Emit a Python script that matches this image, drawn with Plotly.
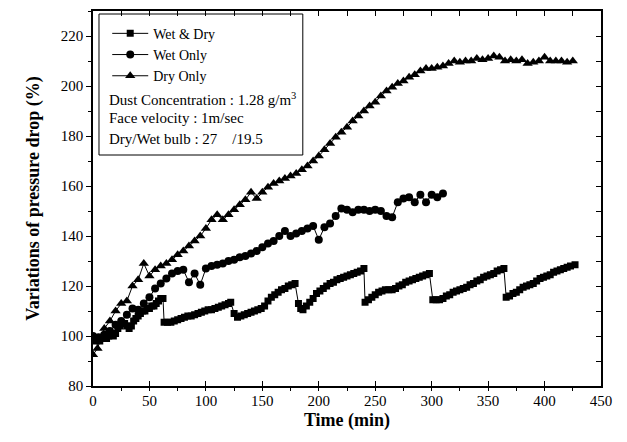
import plotly.graph_objects as go

# ---- data ----
wd_t = [0, 2, 4, 6, 8, 10, 12, 14, 16, 18, 20, 22, 24, 26, 28, 30, 32, 34, 36, 38, 40, 42, 44, 46, 48, 50, 52, 54, 56, 58, 60, 62,
        63, 66, 69, 72, 75, 78, 81, 84, 87, 90, 93, 96, 99, 102, 105, 108, 111, 114, 117, 120, 122,
        125, 128, 131, 134, 137, 140, 143, 146, 149, 152, 155, 158, 161, 164, 167, 170, 173, 176, 179,
        182, 184, 186, 189, 192, 195, 198, 201, 204, 207, 210, 213, 216, 219, 222, 225, 228, 231, 234, 237, 240,
        241, 244, 247, 250, 253, 256, 259, 262, 265, 268, 271, 274, 277, 280, 283, 286, 289, 292, 295, 298,
        301, 304, 307, 310, 313, 316, 319, 322, 325, 328, 331, 334, 337, 340, 343, 346, 349, 352, 355, 358, 361, 364,
        366, 369, 372, 375, 378, 381, 384, 387, 390, 393, 396, 399, 402, 405, 408, 411, 414, 417, 420, 423, 427]
wd_v = [99, 98, 99, 98, 99, 100, 99, 100, 101, 100, 101, 103, 104, 105, 105, 104, 103, 104, 106, 107, 108, 109, 110, 110, 111, 111, 112, 112, 113, 114, 115, 115,
        105.5, 105.5, 105.5, 106, 106.5, 107, 107.5, 108, 108, 108.5, 109, 109.5, 110, 110.5, 110.5, 111, 111.5, 112, 112.5, 113, 113.5,
        109, 107.5, 108, 108.5, 109, 109.5, 110, 110.5, 111, 112, 114, 115.5, 116.5, 117.5, 118.5, 119, 120, 120.5, 121,
        113, 111, 110.5, 112, 113.5, 115, 117, 118, 119, 120, 121, 121.5, 122.5, 123, 123.5, 124, 124.5, 125, 125.5, 126, 127,
        113.5, 114.5, 115.5, 116.5, 117.5, 118, 118.5, 118.5, 118.5, 119, 120, 120.5, 121.5, 122, 122.5, 123, 123.5, 124, 124.5, 125,
        114.5, 114.5, 114.5, 115, 116, 116.5, 117.5, 118, 118.5, 119, 119.5, 120.5, 121, 122, 122.5, 123.5, 124, 124.5, 125, 126, 126.5, 127,
        115.5, 116, 117, 117.5, 118.5, 119.5, 120, 120.5, 121, 122, 123, 123.5, 124, 124.5, 125.5, 126, 126.5, 127, 127.5, 128, 128.5]

wo_t = [0, 5, 10, 15, 20, 25, 30, 35, 40, 45, 50, 55, 60, 65, 70, 75, 80, 85, 90, 95, 100, 105, 110, 115, 120, 125, 130, 135,
        140, 145, 150, 155, 160, 165, 170, 175, 180, 185, 190, 195, 200, 205, 210, 215, 220, 225, 230, 235, 240, 245, 250,
        255, 260, 265, 270, 275, 280, 285, 290, 295, 300, 305, 310]
wo_v = [100, 99.5, 100.5, 102, 104.5, 106, 108.5, 111, 110.5, 113, 115.5, 119, 121, 123, 125, 126, 126.5, 121.5, 125, 120.5,
        127, 128, 128.5, 129, 130, 130.5, 131.5, 132, 133, 134, 135.5, 137, 138, 140, 142, 140, 141, 142, 143, 144, 138.5,
        143.5, 145, 148, 151, 150.5, 149.5, 150.5, 150.5, 150, 150.5, 150, 148, 147.5, 153.5, 155, 155.5, 153.5, 156.5,
        153.5, 156.5, 155.5, 157]

do_t = [0, 4, 10, 15, 20, 25, 30, 35, 40, 45, 50, 55, 60, 65, 70, 75, 80, 85, 90, 95, 100, 105, 110, 115, 120, 125, 130,
        135, 140, 145, 150, 155, 160, 165, 170, 175, 180, 185, 190, 195, 200, 205, 210, 215, 220, 225, 230, 235, 240, 245,
        250, 255, 260, 265, 270, 275, 280, 285, 290, 295, 300, 305, 310, 315, 320, 325, 330, 335, 340, 345, 350, 355, 360,
        365, 370, 375, 380, 385, 390, 395, 400, 405, 410, 415, 420, 425]
do_v = [92.5, 95, 103, 106, 110, 113, 114, 120, 122.5, 129, 124, 126.5, 128, 129, 130.5, 132.5, 134, 136, 138, 140, 143,
        146.5, 148.5, 146.5, 148.5, 150.5, 152.5, 154.5, 157.5, 155, 157.5, 159.5, 161, 162, 163, 164, 165, 166.5, 168, 170,
        172, 174.5, 177, 179.5, 181.5, 183.5, 186, 188, 190, 192, 193.5, 196, 198, 199.5, 201, 202, 203.5, 204.5, 206, 207,
        207, 207.5, 208, 209, 210, 209.5, 210, 210, 211, 210.5, 211, 212, 211.5, 210, 210.5, 210, 210.5, 209, 209.5, 210,
        211.5, 210, 210, 210, 209.5, 210]

x_ticks = [0, 50, 100, 150, 200, 250, 300, 350, 400, 450]
y_ticks = [80, 100, 120, 140, 160, 180, 200, 220]

FONT = "Liberation Serif"

fig = go.Figure()
fig.add_trace(go.Scatter(x=wd_t, y=wd_v, mode="lines+markers", name="Wet & Dry",
                         line=dict(color="black", width=1),
                         marker=dict(symbol="square", size=7, color="black")))
fig.add_trace(go.Scatter(x=wo_t, y=wo_v, mode="lines+markers", name="Wet Only",
                         line=dict(color="black", width=1),
                         marker=dict(symbol="circle", size=8, color="black")))
fig.add_trace(go.Scatter(x=do_t, y=do_v, mode="lines+markers", name="Dry Only",
                         line=dict(color="black", width=1),
                         marker=dict(symbol="triangle-up", size=9, color="black")))

fig.update_layout(
    width=627, height=442,
    margin=dict(l=85, r=34, t=3, b=64, autoexpand=False),
    paper_bgcolor="white", plot_bgcolor="white",
    font=dict(family=FONT, size=15, color="black"),
    showlegend=True,
    legend=dict(x=0.028, y=0.982, xanchor="left", yanchor="top",
                bgcolor="rgba(0,0,0,0)", borderwidth=0, itemwidth=36,
                font=dict(family=FONT, size=14, color="black"),
                tracegroupgap=0, itemsizing="trace"),
    xaxis=dict(range=[0, 450], tickvals=x_ticks, ticktext=[str(v) for v in x_ticks],
               showgrid=False, zeroline=False, showline=True, linecolor="black", linewidth=1.5,
               mirror=True, ticks="inside", ticklen=5, tickcolor="black", automargin=False,
               minor=dict(dtick=25, ticks="outside", ticklen=3, tickcolor="black", showgrid=False),
               tickfont=dict(family=FONT, size=15),
               title=dict(text="<b>Time (min)</b>", font=dict(family=FONT, size=18), standoff=6)),
    yaxis=dict(range=[80, 230], tickvals=y_ticks, ticktext=[str(v) for v in y_ticks],
               showgrid=False, zeroline=False, showline=True, linecolor="black", linewidth=1.5,
               mirror=True, ticks="outside", ticklen=5, tickcolor="black", automargin=False,
               minor=dict(dtick=10, ticks="outside", ticklen=3, tickcolor="black", showgrid=False),
               tickfont=dict(family=FONT, size=15),
               title=dict(text="<b>Variations of pressure drop (%)</b>", font=dict(family=FONT, size=18), standoff=16)),
    xaxis2=dict(range=[0, 450], overlaying="x", side="top", showticklabels=False, showgrid=False, automargin=False,
                zeroline=False, ticks="inside", ticklen=5, tickcolor="black", dtick=25, tick0=0),
    yaxis2=dict(range=[80, 230], overlaying="y", side="right", showticklabels=False, showgrid=False, automargin=False,
                zeroline=False, ticks="inside", ticklen=5, tickcolor="black", dtick=10, tick0=80),
)

# invisible trace to anchor mirror axes
fig.add_trace(go.Scatter(x=[0], y=[80], xaxis="x2", yaxis="y2", mode="markers",
                         marker=dict(opacity=0), showlegend=False, hoverinfo="skip"))

# legend box
fig.add_shape(type="rect", xref="paper", yref="paper", x0=0.0118, x1=0.413, y0=0.616, y1=0.992,
              line=dict(color="black", width=1), fillcolor="rgba(0,0,0,0)")

notes = ["Dust Concentration : 1.28 g/m<sup>3</sup>", "Face velocity : 1m/sec", "Dry/Wet bulb : 27    /19.5"]
note_y = [0.765, 0.714, 0.660]
for txt, yy in zip(notes, note_y):
    fig.add_annotation(text=txt, xref="paper", yref="paper", x=0.0275, y=yy, xanchor="left", yanchor="middle",
                       showarrow=False, font=dict(family=FONT, size=15, color="black"))

fig.write_html("out.html")
